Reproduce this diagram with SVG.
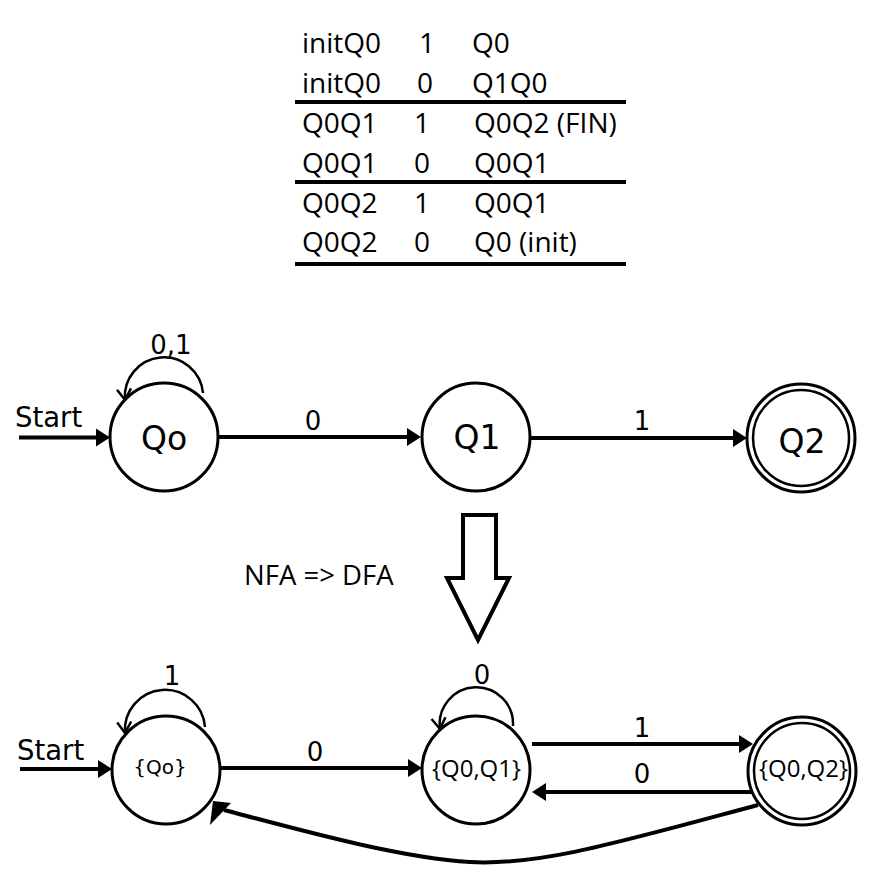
<svg xmlns="http://www.w3.org/2000/svg" width="895" height="892" viewBox="0 0 895 892">
<defs>
<style>
.tbl{font-family:"Open Sans","Noto Sans",sans-serif;font-size:28px;fill:#000}
.lbl{font-family:"DejaVu Sans",sans-serif;font-size:26px;fill:#000;text-anchor:middle}
.st{font-family:"DejaVu Sans",sans-serif;font-size:33px;fill:#000;text-anchor:middle}
.set{font-family:"Open Sans","Noto Sans",sans-serif;font-size:24px;fill:#000;text-anchor:middle}
.node{fill:#fff;stroke:#000;stroke-width:3}
.edge{fill:none;stroke:#000;stroke-width:4}
.loop{fill:none;stroke:#000;stroke-width:2.5}
.rule{stroke:#000;stroke-width:4}
</style>
<marker id="ah" markerUnits="userSpaceOnUse" markerWidth="16" markerHeight="20" refX="8" refY="9" orient="auto" viewBox="0 0 16 18">
<path d="M0,0 L14,9 L0,18 z" fill="#000"/>
</marker>
<marker id="open" markerUnits="userSpaceOnUse" markerWidth="20" markerHeight="20" refX="12" refY="10" orient="auto" viewBox="0 0 20 20">
<path d="M1,3 L12,10 L1,17" fill="none" stroke="#000" stroke-width="2.5"/>
</marker>
</defs>
<rect width="895" height="892" fill="#fff"/>

<g id="table">
<text class="tbl" x="302" y="53">initQ0</text><text class="tbl" x="419" y="53">1</text><text class="tbl" x="472" y="53">Q0</text>
<text class="tbl" x="302" y="93">initQ0</text><text class="tbl" x="417" y="93">0</text><text class="tbl" x="472" y="93">Q1Q0</text>
<line class="rule" x1="295" y1="102" x2="626" y2="102"/>
<text class="tbl" x="302" y="133">Q0Q1</text><text class="tbl" x="414" y="133">1</text><text class="tbl" x="474" y="133">Q0Q2 (FIN)</text>
<text class="tbl" x="302" y="173">Q0Q1</text><text class="tbl" x="414" y="173">0</text><text class="tbl" x="474" y="173">Q0Q1</text>
<line class="rule" x1="295" y1="182" x2="626" y2="182"/>
<text class="tbl" x="302" y="213">Q0Q2</text><text class="tbl" x="414" y="213">1</text><text class="tbl" x="474" y="213">Q0Q1</text>
<text class="tbl" x="302" y="252">Q0Q2</text><text class="tbl" x="414" y="252">0</text><text class="tbl" x="474" y="252">Q0 (init)</text>
<line class="rule" x1="295" y1="264" x2="626" y2="264"/>
</g>

<g id="connectors">
<line class="edge" x1="19" y1="437.5" x2="104" y2="437.5" marker-end="url(#ah)"/>
<line class="edge" x1="218" y1="437" x2="415" y2="437" marker-end="url(#ah)"/>
<line class="edge" x1="530" y1="438" x2="741" y2="438" marker-end="url(#ah)"/>
<path class="loop" d="M 203 393 A 39 39 0 1 0 125 400" marker-end="url(#open)"/>
<line class="edge" x1="20" y1="769" x2="106" y2="769" marker-end="url(#ah)"/>
<line class="edge" x1="220" y1="768" x2="416" y2="768" marker-end="url(#ah)"/>
<line class="edge" x1="532" y1="744" x2="747" y2="744" marker-end="url(#ah)"/>
<line class="edge" x1="752" y1="792" x2="538" y2="792" marker-end="url(#ah)"/>
<path class="loop" d="M 205 727 A 40 40 0 1 0 125 733" marker-end="url(#open)"/>
<path class="loop" d="M 513 726 A 36.7 36.7 0 1 0 440 729" marker-end="url(#open)"/>
<path class="edge" d="M 758 805 C 620 842 540 866 470 862 C 400 858 300 830 224 810"/>
<polygon points="210,825 213,801 231,803" fill="#000"/>
<text class="lbl" x="171" y="354">0,1</text>
<text class="lbl" x="313" y="430">0</text>
<text class="lbl" x="642" y="430">1</text>
<text class="lbl" x="172" y="685">1</text>
<text class="lbl" x="482" y="684">0</text>
<text class="lbl" x="315" y="761">0</text>
<text class="lbl" x="642" y="737">1</text>
<text class="lbl" x="642" y="783">0</text>
<text style="font-family:'DejaVu Sans',sans-serif;font-size:27.5px" x="15" y="427">Start</text>
<text style="font-family:'DejaVu Sans',sans-serif;font-size:27.5px" x="17" y="760">Start</text>
</g>

<g id="Qo"><circle class="node" cx="164" cy="437" r="54"/><text class="st" x="164" y="450">Qo</text></g>
<g id="Q1"><circle class="node" cx="476" cy="437" r="54"/><text class="st" x="477" y="449">Q1</text></g>
<g id="Q2"><circle class="node" cx="801" cy="438" r="54"/><circle fill="none" stroke="#000" stroke-width="2.5" cx="801" cy="438" r="48"/><text class="st" x="802" y="453">Q2</text></g>

<g id="convert">
<polygon points="463,515 496,515 496,578 509,578 478,640 447,578 463,578" fill="#fff" stroke="#000" stroke-width="4"/>
<text style="font-family:'Open Sans','Noto Sans',sans-serif;font-size:27.5px" x="244" y="585">NFA =&gt; DFA</text>
</g>

<g id="DQo"><circle class="node" cx="166" cy="770" r="54"/><text style="font-family:'DejaVu Sans',sans-serif;font-size:20px;text-anchor:middle" x="160" y="774">{Qo}</text></g>
<g id="DQ0Q1"><circle class="node" cx="476" cy="770" r="54"/><text class="set" x="476.5" y="777">{Q0,Q1}</text></g>
<g id="DQ0Q2"><circle class="node" cx="802" cy="771" r="54"/><circle fill="none" stroke="#000" stroke-width="2.5" cx="802" cy="771" r="48"/><text class="set" x="803.5" y="777">{Q0,Q2}</text></g>
</svg>
